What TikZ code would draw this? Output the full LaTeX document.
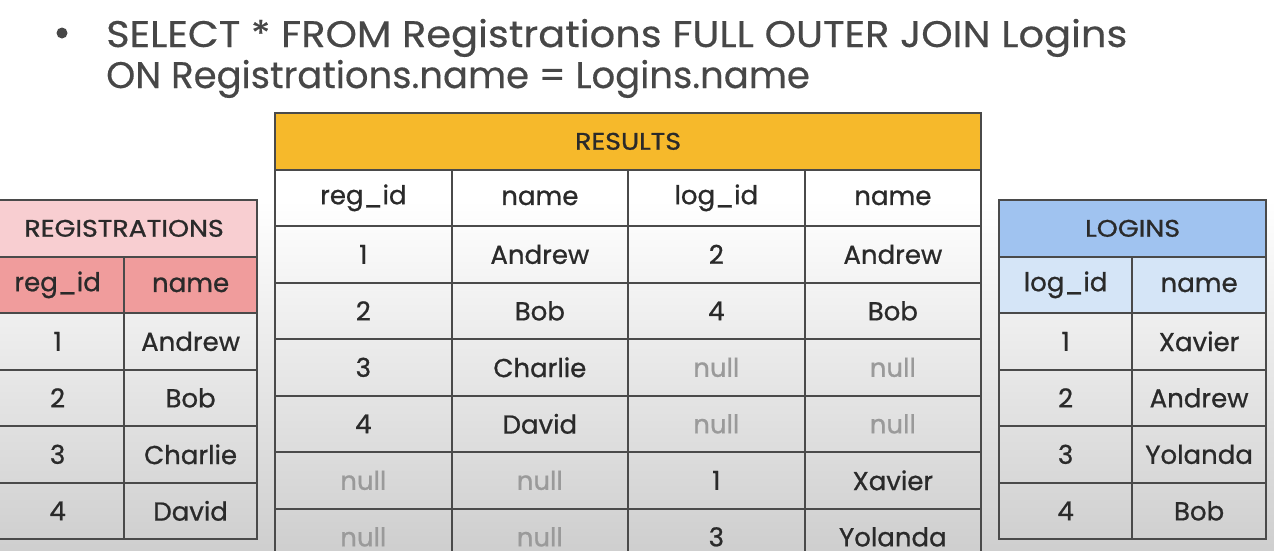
\documentclass[tikz,border=0pt]{standalone}
\usepackage{fontspec}
\setmainfont{Poppins}
\newfontfamily\cellfont{Poppins}[FakeBold=0.8]
\newfontfamily\titlefont{Poppins}[FakeBold=1, FakeStretch=1.12]
\newfontfamily\sqlfont{Poppins}[FakeBold=0.4, FakeStretch=1.08]
\newfontfamily\sqlnarrow{Poppins}[FakeBold=0.4]
\usetikzlibrary{positioning}
\definecolor{resorange}{HTML}{F6B92B}
\definecolor{regpink}{HTML}{F8CED1}
\definecolor{regred}{HTML}{F09C9C}
\definecolor{logblue}{HTML}{A0C3F0}
\definecolor{loglight}{HTML}{D5E5F7}
\definecolor{gridline}{HTML}{4A4A4A}
\definecolor{nulltext}{HTML}{9A9A9A}
\definecolor{inktext}{HTML}{2A2A2A}
\tikzset{
cell/.style={
	  draw=gridline, line width=2.2pt, anchor=north west, inner sep=0pt,
	    minimum height=56.5pt, text=inktext, font=\cellfont\fontsize{26}{26}\selectfont},
title/.style={cell, font=\titlefont\fontsize{24}{24}\selectfont},
sqltext/.style={anchor=base west, inner sep=0pt, text=black!72,
	  font=\sqlfont\fontsize{37}{37}\selectfont}
}
\newcommand{\nul}{\textcolor{nulltext}{null}}

\begin{document}
\begin{tikzpicture}[x=1pt, y=-1pt]
	\useasboundingbox (0,0) rectangle (1274,550);
	\fill[white] (0,0) rectangle (1274,200);
	\shade[top color=white, bottom color=black!19] (0,200) rectangle (1274,550);
	\fill[black!72] (62,33) circle (5.5);
	\node[sqltext] (sql-a) at (106,47) {SELECT * FROM Registrations FULL OUTER JOIN Logins};
	\node[sqltext, font=\sqlnarrow\fontsize{37}{37}\selectfont] (sql-b) at (106,88) {ON Registrations.name = Logins.name};
	% results
	\node[title, fill=resorange, minimum width=706pt] (res-t) at (274,112) {RESULTS};
	\foreach \h [count=\c] in {reg\_id, name, log\_id, name}
		\node[cell, minimum width=176.5pt] (res-h\c) at ({274+(\c-1)*176.5},168.5) {\h};
	\foreach \a/\b/\p/\q [count=\r] in {1/Andrew/2/Andrew, 2/Bob/4/Bob, 3/Charlie/\nul/\nul,
		4/David/\nul/\nul, \nul/\nul/1/Xavier, \nul/\nul/3/Yolanda}{
		\node[cell, minimum width=176.5pt] (res-\r-1) at (274,{168.5+\r*56.5}) {\a};
		\node[cell, minimum width=176.5pt] (res-\r-2) at (450.5,{168.5+\r*56.5}) {\b};
		\node[cell, minimum width=176.5pt] (res-\r-3) at (627,{168.5+\r*56.5}) {\p};
		\node[cell, minimum width=176.5pt] (res-\r-4) at (803.5,{168.5+\r*56.5}) {\q};
	}
	% registrations
	\node[title, fill=regpink, minimum width=266pt] (reg-t) at (-10,199) {REGISTRATIONS};
	\node[cell, fill=regred, minimum width=133pt] (reg-h1) at (-10,255.5) {reg\_id};
	\node[cell, fill=regred, minimum width=133pt] (reg-h2) at (123,255.5) {name};
	\foreach \a/\b [count=\r] in {1/Andrew, 2/Bob, 3/Charlie, 4/David}{
		\node[cell, minimum width=133pt] (reg-\r-1) at (-10,{255.5+\r*56.5}) {\a};
		\node[cell, minimum width=133pt] (reg-\r-2) at (123,{255.5+\r*56.5}) {\b};
	}
	% logins
	\node[title, fill=logblue, minimum width=267pt] (log-t) at (998,199) {LOGINS};
	\node[cell, fill=loglight, minimum width=133pt] (log-h1) at (998,255.5) {log\_id};
	\node[cell, fill=loglight, minimum width=134pt] (log-h2) at (1131,255.5) {name};
	\foreach \a/\b [count=\r] in {1/Xavier, 2/Andrew, 3/Yolanda, 4/Bob}{
		\node[cell, minimum width=133pt] (log-\r-1) at (998,{255.5+\r*56.5}) {\a};
		\node[cell, minimum width=134pt] (log-\r-2) at (1131,{255.5+\r*56.5}) {\b};
	}
\end{tikzpicture}
\end{document}
